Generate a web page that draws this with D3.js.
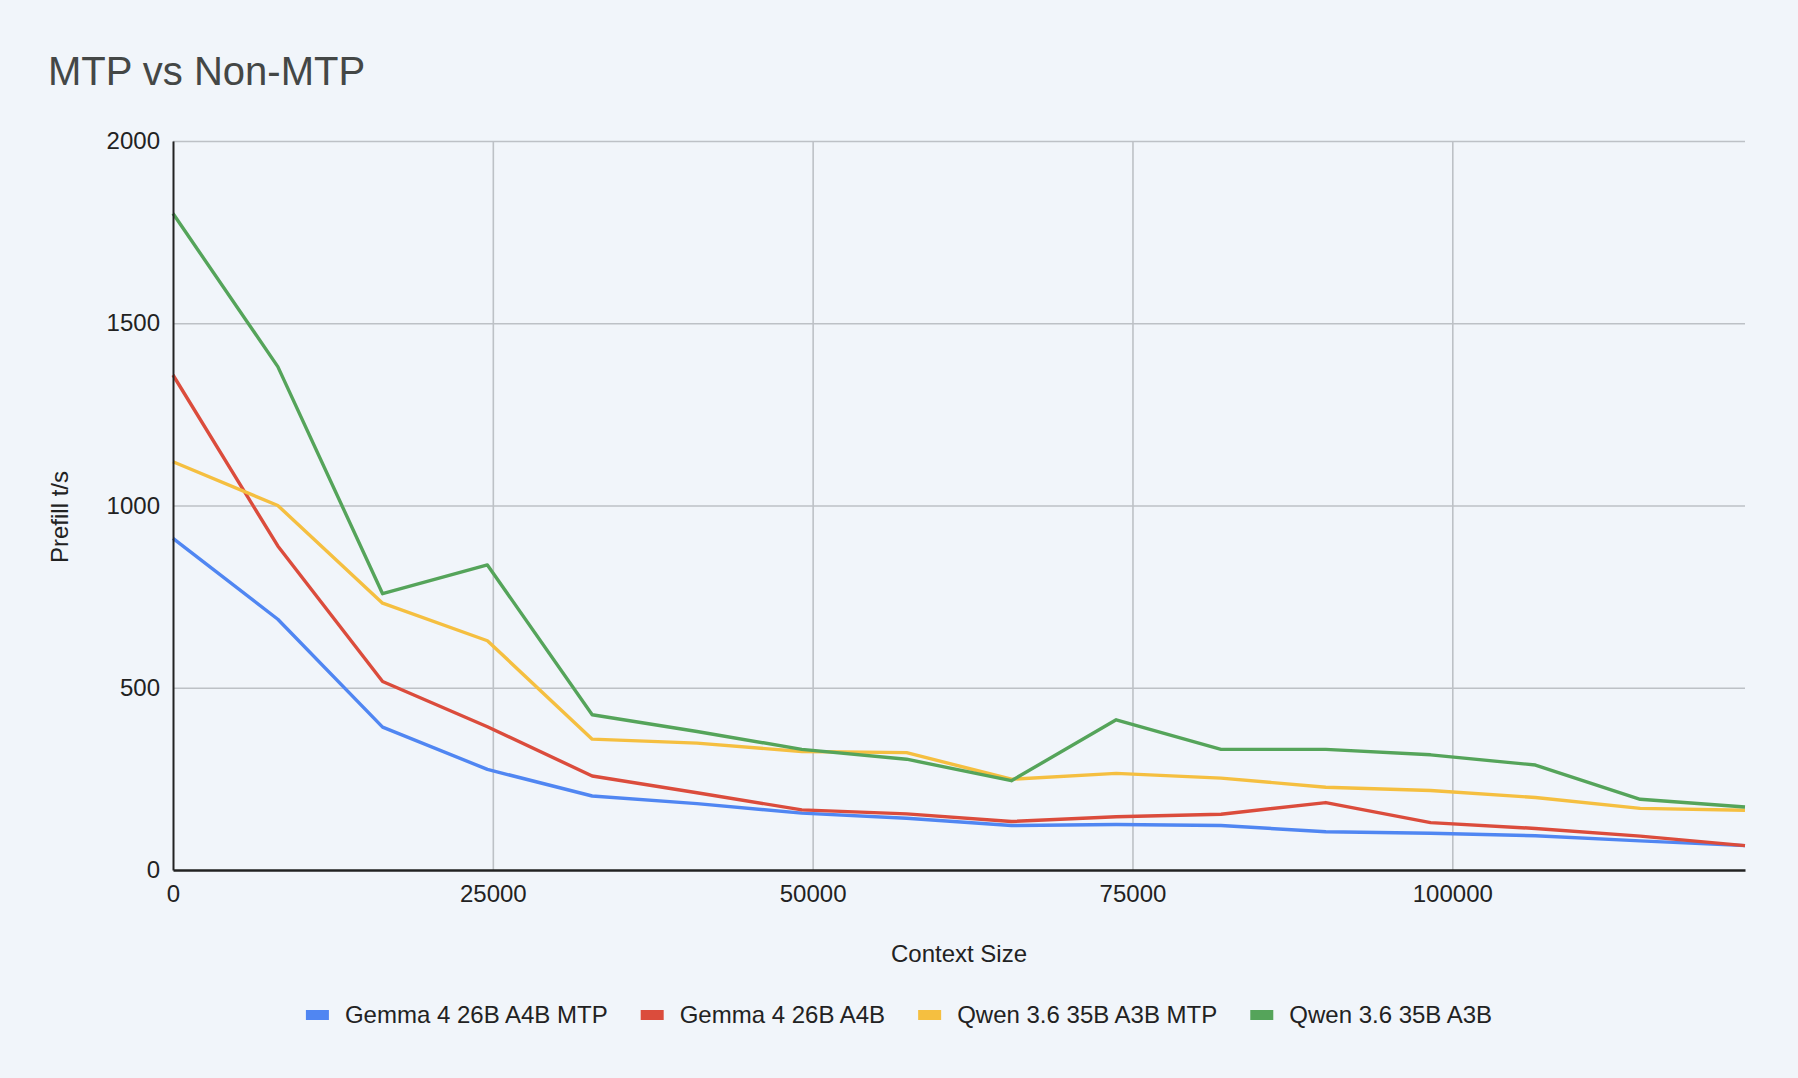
<!DOCTYPE html>
<html>
<head>
<meta charset="utf-8">
<script src="https://cdn.jsdelivr.net/npm/d3@7"></script>
<style>
  html, body { margin: 0; padding: 0; background: #f1f5fa; }
  svg { display: block; }
  text { font-family: "Liberation Sans", Arial, Helvetica, sans-serif; }
</style>
</head>
<body>
<svg id="chart" width="1798" height="1078"></svg>
<script>
const contextSizes = [0, 8192, 16384, 24576, 32768, 40960, 49152, 57344, 65536, 73728, 81920, 90112, 98304, 106496, 114688, 122880];
const gemmaMTP = [910, 688, 392, 276, 203, 182, 156, 142, 122, 125, 122, 105, 101, 94, 80, 67];
const gemma    = [1358, 889, 517, 393, 258, 212, 165, 154, 133, 146, 153, 185, 130, 114, 93, 67];
const qwenMTP  = [1120, 1000, 732, 629, 359, 348, 325, 322, 249, 265, 252, 227, 218, 199, 169, 164];
const qwen     = [1801, 1381, 758, 837, 426, 380, 331, 304, 245, 412, 331, 331, 316, 288, 194, 173];
const seriesNames = ["Gemma 4 26B A4B MTP", "Gemma 4 26B A4B", "Qwen 3.6 35B A3B MTP", "Qwen 3.6 35B A3B"];
const seriesColors = ["#5086f2", "#db4c3c", "#f5bf40", "#55a45a"];
const xTicks = [0, 25000, 50000, 75000, 100000];
const yTicks = [0, 500, 1000, 1500, 2000];

const seriesValues = [gemmaMTP, gemma, qwenMTP, qwen];

(function () {
const svg = d3.select("#chart");
const W = 1798, H = 1078;
const pLeft = 173, pRight = 1745, pTop = 141, pBottom = 870;
const fs = 24;

svg.append("rect").attr("width", W).attr("height", H).attr("fill", "#f1f5fa");

const x = d3.scaleLinear().domain([0, 122880]).range([pLeft, pRight]);
const y = d3.scaleLinear().domain([0, 2000]).range([pBottom, pTop]);

// Title
svg.append("text").attr("x", 48).attr("y", 85)
  .attr("font-size", 40).attr("fill", "#444746").text("MTP vs Non-MTP");

// Gridlines
const gy = svg.append("g").attr("transform", `translate(${pLeft},0)`)
  .call(d3.axisLeft(y).tickValues(yTicks.filter(d => d > 0)).tickSize(-(pRight - pLeft)).tickFormat(""));
gy.select(".domain").remove();
gy.selectAll("line").attr("stroke", "#bdc1c6").attr("stroke-width", 1.6);

const gx = svg.append("g").attr("transform", `translate(0,${pBottom})`)
  .call(d3.axisBottom(x).tickValues(xTicks.filter(d => d > 0)).tickSize(-(pBottom - pTop)).tickFormat(""));
gx.select(".domain").remove();
gx.selectAll("line").attr("stroke", "#bdc1c6").attr("stroke-width", 1.6);

// Lines
const line = d3.line().x((d, i) => x(contextSizes[i])).y(d => y(d));
seriesValues.forEach((vals, k) => {
  svg.append("path").datum(vals)
    .attr("fill", "none").attr("stroke", seriesColors[k])
    .attr("stroke-width", 3.4).attr("stroke-linejoin", "round")
    .attr("d", line);
});

// Axes
const ay = svg.append("g").attr("transform", `translate(${pLeft},0)`)
  .call(d3.axisLeft(y).tickValues(yTicks).tickSize(0).tickPadding(13).tickFormat(d3.format("d")));
ay.select(".domain").attr("stroke", "#222").attr("stroke-width", 2);
ay.selectAll("text").attr("font-size", fs).attr("fill", "#222").attr("font-family", "Liberation Sans, Arial, sans-serif");

const ax = svg.append("g").attr("transform", `translate(0,${pBottom})`)
  .call(d3.axisBottom(x).tickValues(xTicks).tickSize(0).tickPadding(15).tickFormat(d3.format("d")));
ax.select(".domain").attr("stroke", "#222").attr("stroke-width", 2.4);
ax.selectAll("text").attr("font-size", fs).attr("fill", "#222").attr("font-family", "Liberation Sans, Arial, sans-serif");

// Axis titles
svg.append("text").attr("x", (pLeft + pRight) / 2).attr("y", 962)
  .attr("text-anchor", "middle").attr("font-size", fs).attr("fill", "#222").text("Context Size");
svg.append("text").attr("transform", "translate(68,517) rotate(-90)")
  .attr("text-anchor", "middle").attr("font-size", fs).attr("fill", "#222").text("Prefill t/s");

// Legend
const legend = svg.append("g");
const swW = 23, swH = 10, swGap = 16, itemGap = 33;
const items = seriesNames.map((name, k) => {
  const g = legend.append("g");
  g.append("rect").attr("width", swW).attr("height", swH).attr("y", -swH / 2).attr("fill", seriesColors[k]);
  const t = g.append("text").attr("x", swW + swGap).attr("dy", "0.35em")
    .attr("font-size", fs).attr("fill", "#222").text(name);
  return { g, w: swW + swGap + t.node().getComputedTextLength() };
});
const totalW = d3.sum(items, d => d.w) + itemGap * (items.length - 1);
let cx = W / 2 - totalW / 2;
items.forEach(it => {
  it.g.attr("transform", `translate(${cx},1015)`);
  cx += it.w + itemGap;
});
})();
</script>
</body>
</html>
